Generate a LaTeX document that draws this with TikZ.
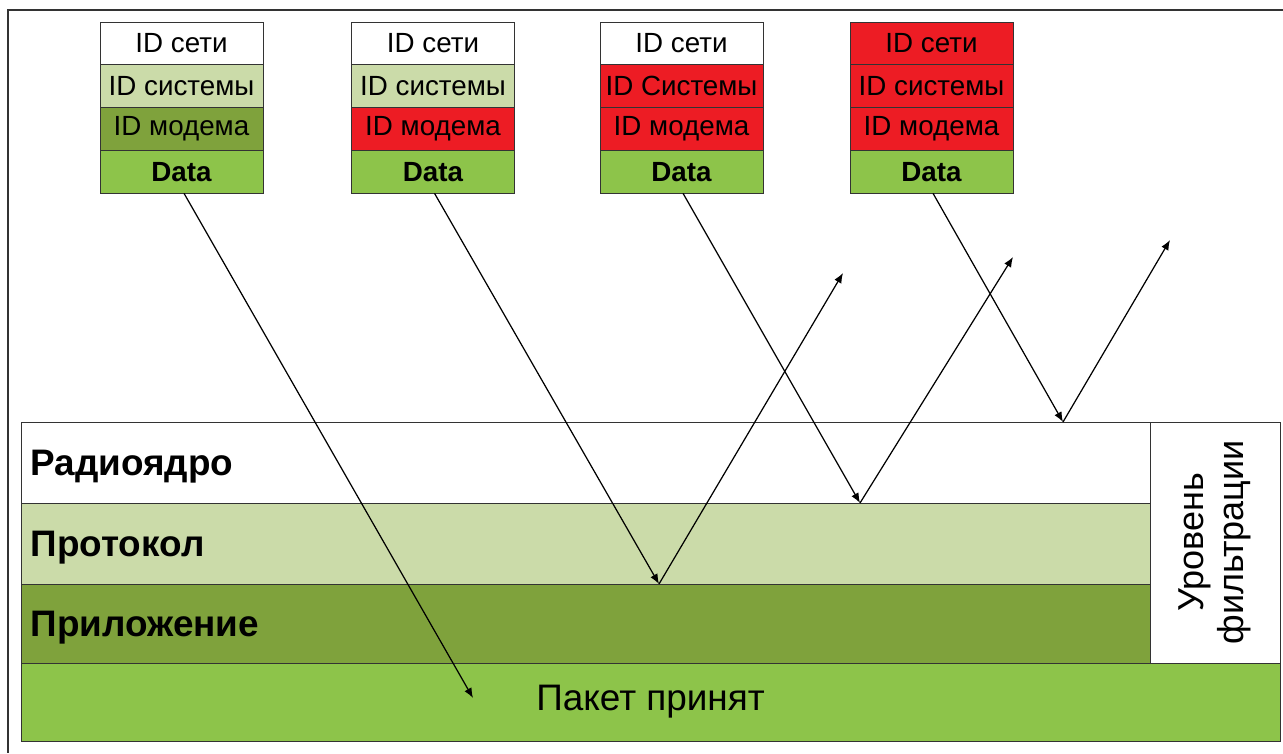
\documentclass[tikz,border=0pt]{standalone}
\usepackage{fontspec}
\setmainfont{Liberation Sans}
\usetikzlibrary{arrows.meta}
\definecolor{lgreen}{RGB}{203,219,169}
\definecolor{dgreen}{RGB}{127,162,60}
\definecolor{bgreen}{RGB}{141,196,74}
\definecolor{pred}{RGB}{237,28,36}
\tikzset{
  cell/.style={draw=black!80, minimum width=3.26cm, minimum height=0.855cm, inner sep=0pt, font=\fontsize{15.8}{18}\selectfont},
  layer/.style={draw=black!80, minimum width=22.58cm, minimum height=1.62cm, inner xsep=0.19cm, inner ysep=0pt, text width=22.2cm, text depth=0pt, align=left, font=\bfseries\fontsize{21}{24}\selectfont},
}
\begin{document}
\begin{tikzpicture}[x=0.02cm, y=-0.02cm, >={Latex[length=2mm,width=1.6mm]}]
        \useasboundingbox (0,0) rectangle (1283,753);
        \draw[black!80, line width=1pt] (1283,10) -- (8,10) -- (8,753);
        % packets
        \foreach \i/\x/\cn/\cs/\cm/\st in {1/181.5/white/lgreen/dgreen/системы, 2/433/white/lgreen/pred/системы, 3/681.5/white/pred/pred/Системы, 4/931.5/pred/pred/pred/системы}{
          \node[cell, fill=\cn] (net\i) at (\x,43.4) {ID сети};
          \node[cell, fill=\cs] (sys\i) at (\x,86.1) {ID \st};
          \node[cell, fill=\cm] (mod\i) at (\x,128.9) {ID модема};
          \node[cell, fill=bgreen, font=\bfseries\fontsize{15.8}{18}\selectfont] (data\i) at (\x,171.6) {Data};
        }
        % layers
        \node[layer, fill=white] (radio) at (585.5,462.5) {Радиоядро};
        \node[layer, fill=lgreen] (proto) at (585.5,543.5) {Протокол};
        \node[layer, fill=dgreen, minimum height=1.58cm] (app) at (585.5,623.5) {Приложение};
        \node[draw=black!80, fill=bgreen, minimum width=25.18cm, minimum height=1.56cm, font=\fontsize{21}{24}\selectfont] (done) at (650.5,702) {Пакет принят};
        \node[draw=black!80, fill=white, minimum width=4.82cm, minimum height=2.6cm, inner sep=0pt, align=center, rotate=90, font=\fontsize{20.5}{23}\selectfont] (filter) at (1215,542.5) {Уровень\\фильтрации};
        % arrows
        \coordinate (tip1) at (473,698);
        \coordinate (hit2) at (659,584);
        \coordinate (hit3) at (860,503);
        \coordinate (hit4) at (1063,422);
        \coordinate (out2) at (843,273);
        \coordinate (out3) at (1013,257);
        \coordinate (out4) at (1170,240);
        \draw[->, line width=0.7pt] ([xshift=0.05cm]data1.south) -- (tip1);
        \foreach \i in {2,3,4}{
          \draw[->, line width=0.7pt] ([xshift=0.03cm]data\i.south) -- (hit\i);
          \draw[->, line width=0.7pt] (hit\i) -- (out\i);
        }
      \end{tikzpicture}
\end{document}
